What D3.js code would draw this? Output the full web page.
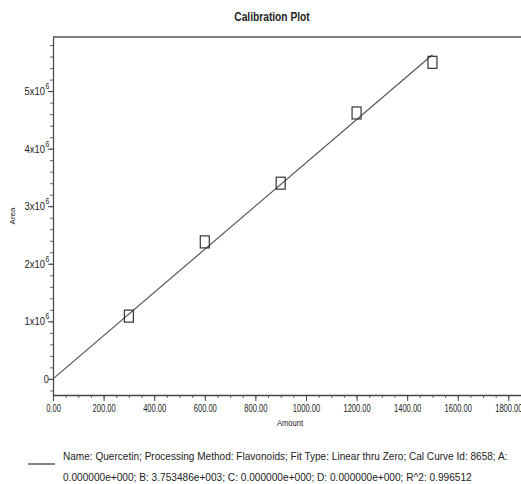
<!DOCTYPE html>
<html>
<head>
<meta charset="utf-8">
<script src="https://cdn.jsdelivr.net/npm/d3@7"></script>
<style>
  body { margin: 0; background: #fff; }
  svg text { font-family: "Liberation Sans Narrow", "Arial Narrow", "Liberation Sans", sans-serif; fill: #222; }
</style>
</head>
<body>
<svg id="chart" width="521" height="484"></svg>
<script>
// calibration standards
let amounts = [300, 600, 900, 1200, 1500]
let areas = [1.09e6, 2.38e6, 3.40e6, 4.62e6, 5.50e6]

// fit coefficients from the legend
let slopeB = 3753.486
let xTicks = [0, 200, 400, 600, 800, 1000, 1200, 1400, 1600, 1800]
let yTicks = [0, 1, 2, 3, 4, 5]
let legendLines = [
    'Name: Quercetin;  Processing Method: Flavonoids;  Fit Type: Linear thru Zero;  Cal Curve Id: 8658;  A:',
    '0.000000e+000;  B: 3.753486e+003;  C: 0.000000e+000;  D: 0.000000e+000;  R^2: 0.996512'
]

let svg = d3.select('svg#chart')
let plot = {left: 53, right: 521, top: 37, bottom: 395}

let x = d3.scaleLinear().domain([0, 1850]).range([plot.left, plot.right])
let y = d3.scaleLinear().domain([-0.28e6, 5.94e6]).range([plot.bottom, plot.top])

// no narrow font installed, so squeeze text horizontally about its anchor x
function condense(sel, f) {
    sel.each(function() {
        let ax = +(this.getAttribute('x') || 0)
        d3.select(this).attr('transform', 'translate(' + ax + ',0) scale(' + f + ',1) translate(' + (-ax) + ',0)')
    })
}

// frame
svg.append('line')
    .attr('x1', plot.left).attr('x2', plot.right)
    .attr('y1', plot.top).attr('y2', plot.top)
    .attr('stroke', '#555').attr('stroke-width', 1.5)

// minor ticks
svg.append('g')
    .attr('transform', 'translate(0,' + plot.bottom + ')')
    .call(d3.axisBottom(x).tickValues(d3.range(0, 1851, 50)).tickSize(3).tickFormat(''))
    .call(g => g.select('.domain').remove())
    .selectAll('line').attr('stroke', '#666')
svg.append('g')
    .attr('transform', 'translate(' + plot.left + ',0)')
    .call(d3.axisLeft(y).tickValues(d3.range(-2e5, 5.95e6, 2e5)).tickSize(3).tickFormat(''))
    .call(g => g.select('.domain').remove())
    .selectAll('line').attr('stroke', '#666')

// x axis
let xAxis = svg.append('g')
    .attr('transform', 'translate(0,' + plot.bottom + ')')
    .call(d3.axisBottom(x).tickValues(xTicks).tickSize(6).tickSizeOuter(0).tickFormat(d3.format('.2f')))
xAxis.select('.domain').attr('stroke', '#444').attr('stroke-width', 1.5)
xAxis.selectAll('line').attr('stroke', '#444')
xAxis.selectAll('text').attr('font-size', 10.5).attr('fill', '#222').attr('y', 9.5)
    .call(condense, 0.72)

// y axis
let yAxis = svg.append('g')
    .attr('transform', 'translate(' + plot.left + ',0)')
    .call(d3.axisLeft(y).tickValues(yTicks.map(d => d * 1e6)).tickSize(5).tickSizeOuter(0).tickFormat(''))
yAxis.select('.domain').attr('stroke', '#444').attr('stroke-width', 1.2)
yAxis.selectAll('line').attr('stroke', '#444')

let yLabels = svg.append('g')
yTicks.forEach((t) => {
    let ty = y(t * 1e6)
    if (t === 0) {
        yLabels.append('text')
            .attr('x', plot.left - 4).attr('y', ty + 4)
            .attr('text-anchor', 'end').attr('font-size', 11.5)
            .text('0')
            .call(condense, 0.8)
        return
    }
    yLabels.append('text')
        .attr('x', plot.left - 8).attr('y', ty + 4)
        .attr('text-anchor', 'end').attr('font-size', 11.5)
        .text(t + 'x10')
        .call(condense, 0.82)
    yLabels.append('text')
        .attr('x', plot.left - 7.5).attr('y', ty - 2)
        .attr('font-size', 8.5)
        .text('6')
        .call(condense, 0.8)
})

// fit line (linear thru zero)
let fit = [0, 1500]
svg.append('path')
    .datum(fit)
    .attr('fill', 'none')
    .attr('stroke', '#555')
    .attr('stroke-width', 1.2)
    .attr('d', d3.line().x(d => x(d)).y(d => y(d * slopeB)))

// standards
svg.selectAll('rect.pt')
    .data(amounts)
    .enter().append('rect')
    .attr('class', 'pt')
    .attr('x', d => x(d) - 4.5)
    .attr('y', (d, i) => y(areas[i]) - 6)
    .attr('width', 9)
    .attr('height', 12)
    .attr('fill', 'none')
    .attr('stroke', '#333')
    .attr('stroke-width', 1.2)

// titles
svg.append('text')
    .attr('x', 272).attr('y', 21)
    .attr('text-anchor', 'middle')
    .attr('font-size', 12).attr('font-weight', 'bold')
    .text('Calibration Plot')
    .call(condense, 0.85)
svg.append('text')
    .attr('x', 290).attr('y', 426)
    .attr('text-anchor', 'middle')
    .attr('font-size', 9.5)
    .text('Amount')
    .call(condense, 0.8)
svg.append('text')
    .attr('transform', 'translate(15,' + ((plot.top + plot.bottom) / 2) + ') rotate(-90)')
    .attr('text-anchor', 'middle')
    .attr('font-size', 8)
    .text('Area')

// legend
svg.append('line')
    .attr('x1', 28).attr('x2', 55)
    .attr('y1', 464).attr('y2', 464)
    .attr('stroke', '#333').attr('stroke-width', 1.2)
let legendWidths = [445, 409]
legendLines.forEach((s, i) => {
    let t = svg.append('text')
        .attr('x', 63).attr('y', 460 + i * 21)
        .attr('font-size', 11.5)
        .text(s)
    t.call(condense, legendWidths[i] / t.node().getComputedTextLength())
})
</script>
</body>
</html>
